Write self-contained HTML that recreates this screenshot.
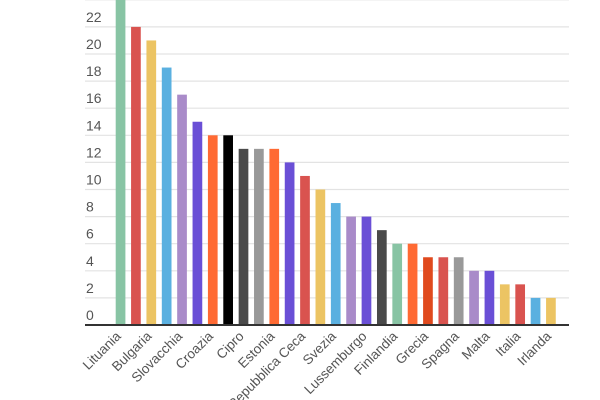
<!DOCTYPE html>
<html><head><meta charset="utf-8"><style>
html,body{margin:0;padding:0;background:#fff;width:600px;height:400px;overflow:hidden}
svg{display:block}
text{font-family:"Liberation Sans",Arial,sans-serif}
</style></head><body>
<svg width="600" height="400" viewBox="0 0 600 400" xmlns="http://www.w3.org/2000/svg">
<g id="grid" stroke="#e3e3e3" stroke-width="1.2"></g>
<g id="ylab" fill="#555" font-size="14"></g>
<g id="bars"></g>
<line x1="85" y1="325" x2="569" y2="325" stroke="#333" stroke-width="2"/>
<g id="xlab" fill="#555" font-size="13.5"></g>
</svg>
<script>
var ns="http://www.w3.org/2000/svg";
function el(t,a,p,txt){var e=document.createElementNS(ns,t);for(var k in a)e.setAttribute(k,a[k]);if(txt)e.textContent=txt;document.getElementById(p).appendChild(e);}
var y0=325,u=13.55;
for(var v=2;v<=24;v+=2){var y=y0-v*u;el('line',{x1:85,x2:569,y1:y,y2:y},'grid');}
for(var v=0;v<=22;v+=2){el('text',{x:86,y:y0-v*u-5},'ylab',String(v));}
var G='#88c4a4',R='#d9534f',Y='#ecc463',B='#5ab0e0',L='#a98bc9',I='#6a4fd6',O='#ff6a33',K='#000',D='#4a4a4a',S='#999',E='#e04a1e';
var d=[[25,G],[22,R],[21,Y],[19,B],[17,L],[15,I],[14,O],[14,K],[13,D],[13,S],[13,O],[12,I],[11,R],[10,Y],[9,B],[8,L],[8,I],[7,D],[6,G],[6,O],[5,E],[5,R],[5,S],[4,L],[4,I],[3,Y],[3,R],[2,B],[2,Y]];
var names=['Lituania','Bulgaria','Slovacchia','Croazia','Cipro','Estonia','Repubblica Ceca','Svezia','Lussemburgo','Finlandia','Grecia','Spagna','Malta','Italia','Irlanda'];
for(var i=0;i<d.length;i++){var x=115.7+i*15.37;var h=d[i][0]*u;el('rect',{x:x,y:y0-h,width:9.7,height:h,fill:d[i][1]},'bars');
if(i%2==0){var cx=x+6,cy=337;el('text',{x:cx,y:cy,'text-anchor':'end',transform:'rotate(-45 '+cx+' '+cy+')'},'xlab',names[i/2]);}}
</script>
</body></html>
